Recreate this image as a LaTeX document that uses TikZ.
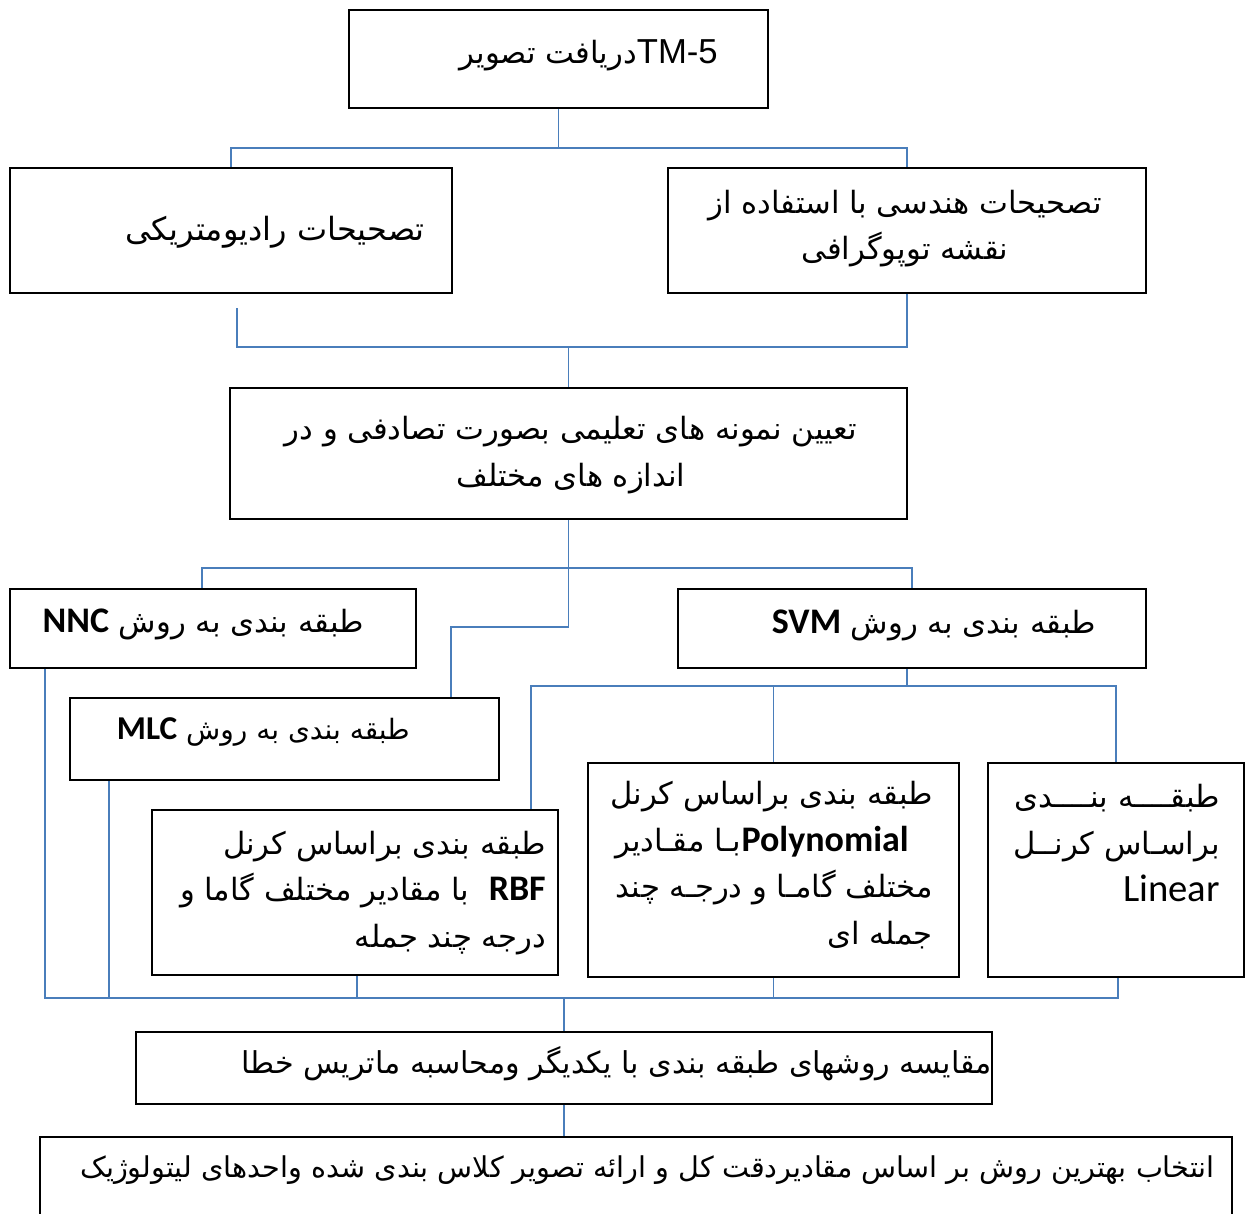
\documentclass[tikz,border=0pt]{standalone}
\usepackage{fontspec}
\usetikzlibrary{calc}
\TeXXeTstate=1
\newfontfamily\arabicfont[Script=Arabic]{DejaVu Sans}
\newfontfamily\latinfont{Carlito}
\newfontfamily\arialfont{Liberation Sans}
\newcommand{\lat}[1]{\beginL{\latinfont\fontsize{29}{35}\selectfont #1}\endL}
\newcommand{\latb}[1]{\beginL{\latinfont\bfseries\fontsize{27}{35}\selectfont #1}\endL}
\definecolor{connblue}{RGB}{74,126,187}
\tikzset{
  box/.style={draw=black, line width=1.3pt, rectangle, inner sep=0pt},
  txt/.style={font=\arabicfont\fontsize{23}{35}\selectfont, inner sep=0pt, align=right},
  ctxt/.style={font=\arabicfont\fontsize{23}{35}\selectfont, inner sep=0pt, align=center},
  conn/.style={draw=connblue, line width=1.3pt}
}
\begin{document}
\begin{tikzpicture}[x=0.75pt,y=-0.75pt]
\useasboundingbox (0,0) rectangle (1245,1213);
% boxes
\node[box, minimum width=419*0.75pt, minimum height=98*0.75pt] (b1) at (558.5,59) {};
\node[box, minimum width=442*0.75pt, minimum height=125*0.75pt] (b2) at (231,230.5) {};
\node[box, minimum width=478*0.75pt, minimum height=125*0.75pt] (b3) at (907,230.5) {};
\node[box, minimum width=677*0.75pt, minimum height=131*0.75pt] (b4) at (568.5,453.5) {};
\node[box, minimum width=406*0.75pt, minimum height=79*0.75pt] (b5) at (213,628.5) {};
\node[box, minimum width=468*0.75pt, minimum height=79*0.75pt] (b6) at (912,628.5) {};
\node[box, minimum width=429*0.75pt, minimum height=82*0.75pt] (b7) at (284.5,739) {};
\node[box, minimum width=406*0.75pt, minimum height=165*0.75pt] (b8) at (355,892.5) {};
\node[box, minimum width=371*0.75pt, minimum height=214*0.75pt] (b9) at (773.5,870) {};
\node[box, minimum width=256*0.75pt, minimum height=214*0.75pt] (b10) at (1116,870) {};
\node[box, minimum width=856*0.75pt, minimum height=72*0.75pt] (b11) at (564,1068) {};
\node[box, minimum width=1192*0.75pt, minimum height=160*0.75pt] (b12) at (636,1217) {};
% texts
\node[txt, anchor=east] (t1) at (718,55) {\beginR\beginL{\arialfont\fontsize{26}{35}\selectfont TM-5}\endL دریافت تصویر\endR};
\node[txt, anchor=east, font=\arabicfont\fontsize{24}{35}\selectfont] (t2) at (425,232) {\beginR تصحیحات رادیومتریکی\endR};
\node[ctxt] (t3) at (905,228.5) {\beginR تصحیحات هندسی با استفاده از\endR\\\beginR نقشه توپوگرافی\endR};
\node[ctxt] (t4) at (571,455) {\beginR تعیین نمونه های تعلیمی بصورت تصادفی و در\endR\\\beginR اندازه های مختلف\endR};
\node[txt, anchor=east] (t5) at (364,624) {\beginR طبقه بندی به روش \latb{NNC}\endR};
\node[txt, anchor=east] (t6) at (1096,625) {\beginR طبقه بندی به روش \latb{SVM}\endR};
\node[txt, anchor=east, font=\arabicfont\fontsize{21}{35}\selectfont] (t7) at (410,732) {\beginR طبقه بندی به روش \beginL{\latinfont\bfseries\fontsize{25}{35}\selectfont MLC}\endL\endR};
\node[txt, anchor=east] (t8) at (546,893) {\beginR طبقه بندی براساس کرنل\endR\\\beginR\latb{RBF}\ \ با مقادیر مختلف گاما و\endR\\\beginR درجه چند جمله\endR};
\node[txt, anchor=east] (t9) at (933,865) {\beginR طبقه بندی براساس کرنل\endR\\\beginR\hspace*{18pt}\latb{Polynomial}بـا مقـادیر\endR\\\beginR مختلف گامـا و درجـه چند\endR\\\beginR جمله ای\endR};
\node[txt, anchor=east] (t10) at (1220,843) {\beginR طبقــــه بنــــدی\endR\\\beginR براسـاس کرنــل\endR\\\lat{Linear}};
\node[txt, anchor=east, font=\arabicfont\fontsize{22.6}{35}\selectfont] (t11) at (992,1064) {\beginR مقایسه روشهای طبقه بندی با یکدیگر ومحاسبه ماتریس خطا\endR};
\node[txt, anchor=east, font=\arabicfont\fontsize{21.5}{35}\selectfont] (t12) at (1215,1170) {\beginR انتخاب بهترین روش بر اساس مقادیردقت کل و ارائه تصویر کلاس بندی شده واحدهای لیتولوژیک\endR};
% connectors
\coordinate (j1) at (558.5,148);
\draw[conn] (b1.south) -- (j1);
\draw[conn] (j1) -| (b2.north);
\draw[conn] (j1) -| (b3.north);
\coordinate (c2) at (237,308);
\coordinate (j2) at (568.5,347);
\draw[conn] (c2) |- (j2);
\draw[conn] (b3.south) |- (j2);
\draw[conn] (j2) -- (b4.north);
\coordinate (j3) at (568.5,568);
\coordinate (j4) at (568.5,627);
\draw[conn] (b4.south) -- (j4);
\draw[conn] (j4) -| ($(b7.north west)+(382,0)$);
\draw[conn] (j3) -| ($(b5.north)+(-11,0)$);
\draw[conn] (j3) -| (b6.north);
\coordinate (j5) at (907,686);
\draw[conn] ($(b6.south)+(-5,0)$) -- (j5);
\draw[conn] (j5) -| ($(b8.north east)+(-28,0)$);
\draw[conn] (j5) -| (b9.north);
\draw[conn] (j5) -| (b10.north);
\coordinate (j6) at (564,998);
\draw[conn] ($(b5.south west)+(36,0)$) |- (j6);
\draw[conn] ($(b7.south west)+(40,0)$) -- ($(b7.south west)+(40,218)$);
\draw[conn] ($(b8.south)+(2,0)$) -- ($(b8.south)+(2,23)$);
\draw[conn] (b9.south) -- ($(b9.south)+(0,21)$);
\draw[conn] ($(b10.south)+(2,0)$) |- (j6);
\draw[conn] (j6) -- (b11.north);
\draw[conn] (b11.south) -- (b11.south |- b12.north);
\end{tikzpicture}
\end{document}
